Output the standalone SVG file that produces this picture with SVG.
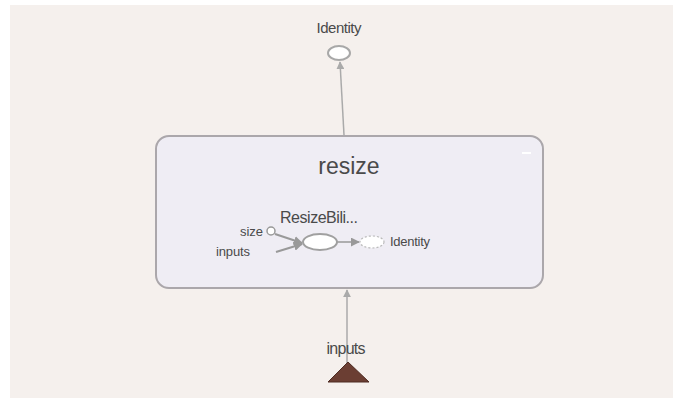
<svg xmlns="http://www.w3.org/2000/svg" width="673" height="398" viewBox="0 0 673 398">
<defs>
<style>
.t{font-family:"Liberation Sans",Arial,sans-serif;fill:#4a4a4a}
.e{fill:#fff;stroke:#a8a8a8;stroke-width:2}
.c{stroke:#aaa;stroke-width:1.5;fill:none}
</style>
<marker id="ah" viewBox="0 0 10 10" refX="9" refY="5" markerWidth="8" markerHeight="8" orient="auto" markerUnits="userSpaceOnUse">
<path d="M0,0 L10,5 L0,10 z" fill="#aaa"/>
</marker>
<marker id="ahs" viewBox="0 0 10 10" refX="9" refY="5" markerWidth="9" markerHeight="9" orient="auto" markerUnits="userSpaceOnUse">
<path d="M0,0 L10,5 L0,10 z" fill="#999"/>
</marker>
</defs>
<rect x="0" y="0" width="673" height="398" fill="#fff"/>
<rect x="10" y="5" width="663" height="393" fill="#f5f0ed"/>

<g id="resize">
<rect x="156" y="136" width="387" height="152" rx="13" ry="13" fill="#efedf4" stroke="#aba7ab" stroke-width="2"/>
<text class="t" x="349" y="174" font-size="23" text-anchor="middle">resize</text>
<line x1="522" y1="153" x2="531" y2="153" stroke="#fff" stroke-width="2"/>
</g>

<g id="connectors">
<line class="c" x1="344" y1="135" x2="340" y2="62" marker-end="url(#ah)"/>
<line class="c" x1="347" y1="363" x2="347" y2="290" marker-end="url(#ah)"/>
<line x1="275" y1="234" x2="302" y2="243" stroke="#999" stroke-width="2" marker-end="url(#ahs)"/>
<line x1="276" y1="252" x2="302" y2="244" stroke="#999" stroke-width="2" marker-end="url(#ahs)"/>
<line x1="337" y1="242" x2="359" y2="242" stroke="#999" stroke-width="1.5" marker-end="url(#ahs)"/>
</g>

<g id="identity-top">
<text class="t" x="339" y="33" font-size="15" text-anchor="middle" textLength="45">Identity</text>
<ellipse class="e" cx="339" cy="53" rx="11" ry="7"/>
</g>

<g id="size">
<text class="t" x="263" y="236" font-size="13" text-anchor="end">size</text>
<circle cx="271" cy="231" r="4" fill="#fff" stroke="#999" stroke-width="1.5"/>
</g>

<g id="inputs-inner">
<text class="t" x="216" y="256" font-size="13" textLength="34">inputs</text>
</g>

<g id="ResizeBilinear">
<text class="t" x="280" y="223" font-size="16" textLength="78" fill="#555">ResizeBili...</text>
<ellipse cx="320" cy="242" rx="17" ry="8" fill="#fff" stroke="#a0a0a0" stroke-width="2"/>
</g>

<g id="identity-inner">
<ellipse cx="372" cy="242" rx="12" ry="6" fill="#fff" stroke="#bbb" stroke-width="1.2" stroke-dasharray="2,2"/>
<text class="t" x="390" y="246" font-size="13" textLength="40">Identity</text>
</g>

<g id="inputs">
<text class="t" x="346" y="354" font-size="16" text-anchor="middle" textLength="39">inputs</text>
<path d="M348,362 L369,382 L328,382 Z" fill="#6b3e33" stroke="#4e2b22" stroke-width="1"/>
</g>
</svg>
